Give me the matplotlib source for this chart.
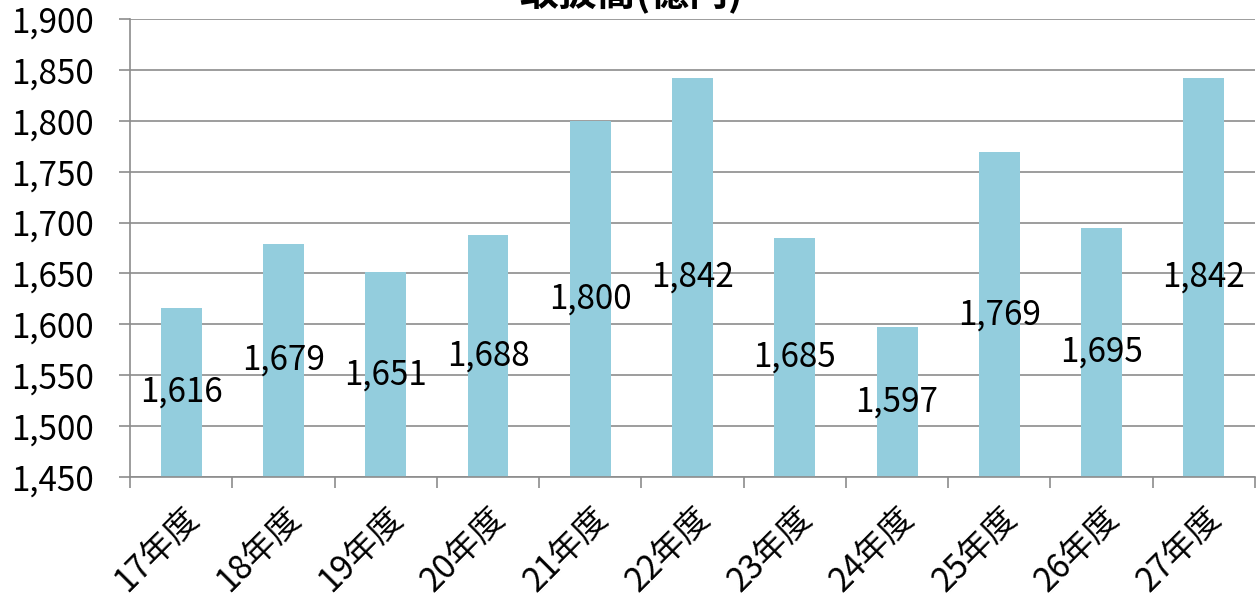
import matplotlib.pyplot as plt
import numpy as np
from matplotlib.ticker import FuncFormatter, FixedLocator

plt.rcParams['font.family'] = ['Noto Sans CJK JP', 'DejaVu Sans']

years = ['17年度', '18年度', '19年度', '20年度', '21年度', '22年度',
         '23年度', '24年度', '25年度', '26年度', '27年度']
amounts = [1616, 1679, 1651, 1688, 1800, 1842, 1685, 1597, 1769, 1695, 1842]
title = '取扱高(億円)'

ymin, ymax = 1450, 1900
bar_color = '#93cddd'
grid_color = '#8c8c8c'

fig = plt.figure(figsize=(12.58, 6), dpi=100)
ax = fig.add_axes([130 / 1258, 1 - 477 / 600, 1125 / 1258, 458 / 600])

x = np.arange(len(years))
ax.bar(x, np.array(amounts) - ymin, bottom=ymin, width=0.4, color=bar_color, zorder=2)

# value labels sit halfway up each bar
for xi, v in zip(x, amounts):
    ax.text(xi, (ymin + v) / 2, f'{v:,}', ha='center', va='center', fontsize=24, zorder=3)

ax.set_xlim(-0.5, len(years) - 0.5)
ax.set_ylim(ymin, ymax)
ax.yaxis.set_major_locator(FixedLocator(np.arange(ymin, ymax + 1, 50)))
ax.yaxis.set_major_formatter(FuncFormatter(lambda v, p: f'{int(v):,}'))
ax.grid(axis='y', color=grid_color, linewidth=1.2, zorder=0)

# category ticks sit between the bars, labels under each bar
ax.set_xticks(np.arange(-0.5, len(years), 1.0))
ax.set_xticklabels([])
ax.set_xticks(x, minor=True)
ax.set_xticklabels(years, minor=True, rotation=45, ha='right', va='top',
                   rotation_mode='anchor', fontsize=24)
ax.tick_params(axis='x', which='minor', length=0, pad=17)
ax.tick_params(axis='x', which='major', length=8, width=1.2, color=grid_color, direction='out')
ax.tick_params(axis='y', length=8, width=1.2, color=grid_color, labelsize=24, pad=18)

for s in ['top', 'right']:
    ax.spines[s].set_visible(False)
for s in ['left', 'bottom']:
    ax.spines[s].set_color(grid_color)
    ax.spines[s].set_linewidth(1.2)

fig.text(0.502, 1.0 + 0.045, title, ha='center', va='top', fontsize=28, fontweight='bold')

fig.savefig('out.png', dpi=100)
